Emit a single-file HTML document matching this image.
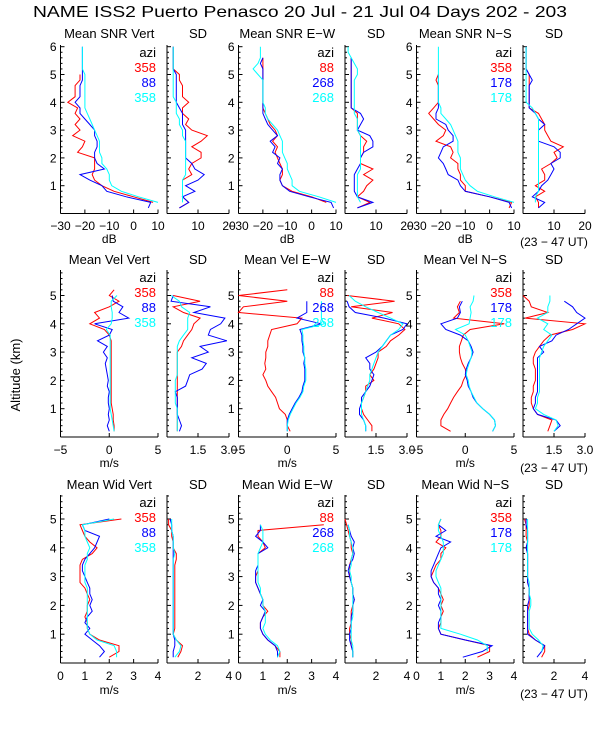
<!DOCTYPE html>
<html><head><meta charset="utf-8"><style>
html,body{margin:0;padding:0;background:#fff;}
svg text{font-family:"Liberation Sans",sans-serif;fill:#000;}
</style></head><body>
<svg id="chart" width="600" height="750" viewBox="0 0 600 750" xmlns="http://www.w3.org/2000/svg">
<text x="300" y="17" text-anchor="middle" font-size="16" textLength="534" lengthAdjust="spacingAndGlyphs">NAME ISS2 Puerto Penasco  20 Jul - 21 Jul 04 Days 202 - 203</text>
<text transform="translate(20,375) rotate(-90)" text-anchor="middle" font-size="13">Altitude (km)</text>
<g id="plots"></g>
</svg>
<script>
// Altitude grid (km) shared by all series
const ALT = [0.2,0.4,0.6,0.8,1.0,1.2,1.4,1.6,1.8,2.0,2.2,2.4,2.6,2.8,3.0,3.2,3.4,3.6,3.8,4.0,4.2,4.4,4.6,4.8,5.0,5.2,5.4,5.6,5.8,6.0];
const N=null;
// Row 1: SNR (dB)
const snrVertRed  = [N,8,0,-8,-13,-16,-17,-16,-16,-16,-23,-21,-20,-25,-22,-24,-22,-24,-23,-27,-24,-24,-24,-22,-22,N,N,N,N,N];
const snrVertBlue = [6,7,-3,-11,-13,-18,-22,-12,-15,-16,-16,-15,-15,-16,-16,-18,-20,-22,-22,-24,-22,-22,-22,-21,-21,-21,-21,-21,-21,-21];
const snrVertCyan = [N,10,2,-5,-9,-10,-10,-11,-13,-13,-14,-14,-14,-15,-16,-17,-18,-19,-20,-20,-20,-20,-20,-20,-20,-21,-21,-21,-21,-21];
const snrVertSdRed  = [4,7,5,5,5,5,8,7,8,11,11,8,11,13,8,6,7,5,5,7,5,5,5,4,4,2,2,2,2,2];
const snrVertSdBlue = [4,7,5,9,6,10,12,9,8,6,6,6,6,6,6,5,5,5,4,3,3,3,3,3,3,2,2,2,2,2];
const snrVertSdCyan = [N,5,5,5,5,5,6,6,6,6,6,6,6,5,5,4,4,3,3,3,2,2,2,2,2,2,2,2,2,2];
const snrEwRed  = [N,6,0,-8,-12,-13,-12,-12,-13,-14,-15,-14,-16,-14,-15,-17,-18,-19,-20,-20,-20,-20,-20,-20,-20,-20,-20,-20,N,N];
const snrEwBlue = [9,8,-1,-9,-12,-13,-13,-12,-14,-13,-16,-15,-17,-14,-16,-18,-19,-20,-20,-20,-20,-20,-20,-20,-20,-20,-21,-20,N,N];
const snrEwCyan = [N,10,3,-5,-8,-8,-9,-10,-10,-11,-12,-12,-12,-13,-14,-16,-18,-19,-19,-20,-20,-20,-20,-20,-22,-24,-22,-21,-21,-21];
const snrEwSdRed  = [4,8,4,6,7,9,6,9,5,5,6,6,7,5,4,4,4,4,2,2,2,2,2,2,2,2,2,2,N,N];
const snrEwSdBlue = [4,9,4,3,3,3,3,4,5,5,6,9,9,8,4,5,6,5,2,2,2,2,2,2,2,2,2,2,N,N];
const snrEwSdCyan = [N,5,4,4,4,4,4,5,5,5,5,5,5,5,4,4,4,3,3,3,3,3,3,3,4,4,3,2,1,1];
const snrNsRed  = [8,9,0,-10,-10,-12,-12,-13,-13,-16,-15,-16,-22,-19,-18,-21,-23,-25,-23,-21,-21,-21,-21,-22,-21,N,N,N,N,N];
const snrNsBlue = [9,8,0,-10,-12,-13,-17,-18,-19,-21,-20,-19,-15,-15,-17,-18,-22,-22,-21,-21,-21,-21,-21,-21,-21,N,N,N,N,N];
const snrNsCyan = [N,10,2,-5,-8,-10,-11,-12,-12,-12,-13,-13,-13,-14,-15,-16,-18,-20,-20,-21,-21,-21,-21,-21,-21,-21,-21,-21,-21,-21];
const snrNsSdRed  = [5,5,4,7,4,7,7,6,9,11,10,13,9,8,7,7,6,5,2,2,2,2,2,2,2,1,1,1,1,1];
const snrNsSdBlue = [5,7,3,5,6,8,9,10,9,12,12,10,5,5,5,7,5,4,2,2,2,2,2,3,2,1,1,1,1,1];
const snrNsSdCyan = [N,4,4,5,5,5,5,5,5,5,5,5,5,5,5,5,5,4,3,1,1,1,1,1,1,1,1,1,1,1];
// Row 2: velocity (m/s)
const velVertRed  = [0.5,0.5,0.4,0.4,0.3,0.2,0.2,0.2,0.2,0.2,0.2,0.2,0.2,0.2,0.2,0.2,0.2,0,-0.5,-2,-1,-1.5,0,1,0,0.5,N,N,N,N];
const velVertBlue = [0,-0.2,0,-0.1,0,-0.1,-0.1,0,-0.2,-0.1,-0.2,-0.3,-0.4,-0.2,-0.6,-0.2,-1.2,0,0.3,-1.5,2,1,1.4,0.4,0.3,N,N,N,N,N];
const velVertCyan = [0.5,0.4,0.3,0.2,0.1,0.1,0.1,0.1,0.1,0.1,0.1,0.1,0.1,0.1,0.1,0.1,0.1,0.1,-0.3,0.2,0.3,0.3,0.2,0.2,0.8,N,N,N,N,N];
const velVertSdRed  = [0.5,0.5,0.5,0.5,0.5,0.5,0.5,0.5,0.5,0.5,0.5,0.5,0.5,0.5,0.5,0.7,0.8,1.0,1.2,1.3,1.6,0.8,0.3,1.6,0.3,N,N,N,N,N];
const velVertSdBlue = [0.6,0.7,0.6,0.5,0.5,0.5,0.5,0.4,0.9,1.0,1.1,1.7,1.9,1.2,2.0,1.6,2.9,2.0,2.1,2.6,2.8,1.3,2.1,0.2,0.3,N,N,N,N,N];
const velVertSdCyan = [0.5,0.5,0.5,0.5,0.5,0.4,0.4,0.4,0.4,0.4,0.5,0.5,0.5,0.5,0.5,0.5,0.6,0.8,1.0,1.0,1.0,1.1,0.7,0.6,0.2,N,N,N,N,N];
const velEwRed  = [0.3,0,0,-0.2,-0.8,-1.0,-1.2,-1.6,-2.0,-2.2,-2.5,-2.2,-2.3,-2.2,-2.2,-2.0,-2.0,-1.8,-1.6,1.0,1.5,-5,-4.5,0,-5,0,N,N,N,N];
const velEwBlue = [0,0,0,0.2,0.5,0.8,1.2,1.5,1.6,1.8,1.8,1.8,1.7,1.8,1.6,1.6,1.5,1.5,1.3,3.5,1.0,2.0,2.0,2.0,N,N,N,N,N,N];
const velEwCyan = [0,0,0.1,0.3,0.6,0.9,1.3,1.6,1.7,1.9,1.9,1.9,1.8,1.8,1.7,1.7,1.6,1.6,1.5,3.8,3.5,3.5,3.5,3.5,N,N,N,N,N,N];
const velEwSdRed  = [1.3,1.3,1.1,0.9,0.8,0.8,0.9,1.0,1.0,1.4,1.2,1.4,1.5,1.6,1.6,2.0,2.2,2.6,2.9,2.6,1.3,2.3,0.3,2.4,0.1,N,N,N,N,N];
const velEwSdBlue = [1.0,1.0,0.9,0.7,0.7,0.8,0.8,1.0,1.2,1.3,1.4,1.2,1.2,1.0,1.5,1.8,2.0,2.2,2.8,3.0,1.9,0.5,0.2,0.1,N,N,N,N,N,N];
const velEwSdCyan = [1.0,1.0,0.9,0.8,0.8,0.8,0.9,1.0,1.1,1.2,1.2,1.3,1.4,1.5,1.6,1.8,2.0,2.2,2.6,2.8,2.2,1.6,1.0,0.5,0.2,N,N,N,N,N];
const velNsRed  = [-1.5,-2.5,-2.5,-2.2,-1.8,-1.5,-1.2,-0.8,-0.4,-0.2,0.1,0,-0.3,-0.5,-0.6,-0.6,-0.4,-0.2,0.5,4.0,-1.2,-0.6,-0.8,-0.5,N,N,N,N,N,N];
const velNsBlue = [2.8,3.1,3.0,2.5,1.8,1.2,0.8,0.6,0.3,0.2,0,0.1,0.3,0.6,0.8,0.6,0.3,-0.5,-2,-2.5,-0.8,-0.5,-0.6,-0.3,N,N,N,N,N,N];
const velNsCyan = [2.8,3.1,3.0,2.5,1.8,1.2,0.9,0.6,0.4,0.3,0.1,0.2,0.4,0.6,0.7,0.5,0.3,0,-1,0.4,0.5,0.6,0.5,0.8,0.9,N,N,N,N,N];
const velNsSdRed  = [1.2,1.3,1.4,0.7,0.5,0.4,0.4,0.5,0.5,0.6,0.6,0.6,0.5,0.5,0.6,0.8,1.0,1.3,2.4,3.0,0.1,1.2,0.4,0.3,0,N,N,N,N,N];
const velNsSdBlue = [1.5,1.8,1.6,0.7,0.5,0.6,0.6,0.7,0.7,0.7,0.7,0.7,0.7,0.7,1.0,0.8,1.4,1.6,2.2,2.6,3.0,2.6,2.4,2.0,N,N,N,N,N,N];
const velNsSdCyan = [1.5,1.7,1.6,1.0,0.6,0.7,0.7,0.8,0.8,0.8,0.8,0.8,0.8,0.8,0.9,1.0,1.2,1.4,1.0,1.2,0.7,1.2,1.2,1.3,1.3,N,N,N,N,N];
// Row 3: width (m/s)
const widVertRed  = [2.0,2.4,2.4,1.6,1.2,1.1,1.1,1.0,1.1,1.1,1.2,1.1,1.0,0.8,0.8,0.8,0.8,0.9,1.3,1.5,1.2,1.0,0.9,0.8,2.5,N,N,N,N,N];
const widVertBlue = [1.6,1.8,1.6,1.3,1.0,1.2,1.0,1.1,1.3,1.2,1.3,1.2,1.2,1.1,1.0,0.9,0.9,1.0,1.2,1.4,1.5,1.6,1.0,0.9,2.0,N,N,N,N,N];
const widVertCyan = [2.3,2.3,2.2,1.5,1.2,1.1,1.1,1.1,1.1,1.1,1.1,1.1,1.1,1.0,1.0,1.0,1.0,1.1,1.1,1.2,1.1,1.0,1.0,0.9,2.2,N,N,N,N,N];
const widVertSdRed  = [0.7,0.9,1.0,0.6,0.4,0.5,0.5,0.5,0.5,0.5,0.5,0.5,0.5,0.5,0.5,0.5,0.5,0.6,0.6,0.4,0.4,0.3,0.3,0.1,0.1,N,N,N,N,N];
const widVertSdBlue = [0.4,0.4,0.5,0.5,0.4,0.4,0.4,0.4,0.4,0.4,0.4,0.4,0.4,0.4,0.4,0.4,0.4,0.4,0.4,0.4,0.4,0.4,0.3,0.3,0.2,N,N,N,N,N];
const widVertSdCyan = [0.5,0.8,0.9,0.6,0.4,0.4,0.4,0.4,0.4,0.4,0.4,0.4,0.4,0.4,0.4,0.4,0.4,0.4,0.5,0.4,0.4,0.4,0.3,0.3,0.3,N,N,N,N,N];
const widEwRed  = [1.7,1.7,1.5,1.2,1.0,0.9,0.9,1.0,1.2,1.0,1.0,0.9,0.8,0.7,0.7,0.8,0.8,0.8,0.8,1.1,1.0,0.8,0.8,3.5,N,N,N,N,N,N];
const widEwBlue = [1.6,1.6,1.5,1.2,1.0,0.9,0.9,1.0,1.1,0.9,1.0,0.9,0.8,0.7,0.7,0.7,0.8,0.8,0.8,1.2,1.0,0.7,0.9,0.9,N,N,N,N,N,N];
const widEwCyan = [1.6,1.7,1.6,1.3,1.1,1.0,1.1,1.1,1.1,1.0,1.0,0.9,0.9,0.8,0.8,0.8,0.8,0.8,0.8,0.9,1.0,1.0,1.0,0.9,N,N,N,N,N,N];
const widEwSdRed  = [0.5,0.5,0.4,0.4,0.3,0.3,0.4,0.4,0.4,0.5,0.6,0.5,0.5,0.4,0.3,0.3,0.3,0.4,0.5,0.4,0.4,0.3,0.2,0.1,0,N,N,N,N,N];
const widEwSdBlue = [0.5,0.5,0.4,0.3,0.3,0.4,0.4,0.4,0.5,0.5,0.6,0.5,0.5,0.4,0.3,0.2,0.3,0.5,0.6,0.5,0.6,0.4,0.3,0.2,N,N,N,N,N,N];
const widEwSdCyan = [0.5,0.5,0.5,0.4,0.4,0.4,0.4,0.5,0.5,0.5,0.5,0.5,0.5,0.4,0.4,0.3,0.4,0.4,0.5,0.5,0.4,0.3,0.3,0.2,N,N,N,N,N,N];
const widNsRed  = [2.5,3.0,3.0,2.0,1.0,0.9,1.0,1.0,1.1,1.0,1.1,1.0,0.9,0.7,0.6,0.7,0.8,1.0,1.0,1.2,0.8,1.0,1.0,0.9,1.0,N,N,N,N,N];
const widNsBlue = [1.9,2.7,3.1,2.0,1.0,0.9,0.9,1.0,1.0,0.9,1.0,0.9,0.9,0.7,0.6,0.6,0.7,0.8,0.9,1.0,1.4,0.8,1.2,0.9,N,N,N,N,N,N];
const widNsCyan = [N,2.9,2.9,2.5,1.8,1.0,1.0,1.0,1.0,1.0,1.0,1.0,1.0,0.9,0.8,0.8,0.9,1.0,1.1,1.1,1.1,1.0,0.9,0.9,1.0,N,N,N,N,N];
const widNsSdRed  = [1.2,1.4,1.4,0.8,0.4,0.3,0.3,0.3,0.3,0.4,0.4,0.4,0.4,0.3,0.3,0.3,0.3,0.3,0.3,0.2,0.3,0.2,0.2,0.2,0.1,N,N,N,N,N];
const widNsSdBlue = [0.9,1.2,1.4,0.8,0.3,0.3,0.3,0.3,0.3,0.3,0.4,0.4,0.4,0.3,0.3,0.3,0.3,0.3,0.3,0.2,0.3,0.3,0.3,0.2,0.2,N,N,N,N,N];
const widNsSdCyan = [N,1.2,1.3,1.0,0.6,0.4,0.4,0.4,0.4,0.5,0.5,0.4,0.4,0.4,0.3,0.3,0.3,0.3,0.3,0.3,0.3,0.3,0.3,0.3,0.3,N,N,N,N,N];

const legendLabels = [["358","88","358"],["88","268","268"],["358","178","178"]];

const svg = document.getElementById('plots');
const NS='http://www.w3.org/2000/svg';
function mk(tag, attrs, parent){const e=document.createElementNS(NS,tag);for(const k in attrs)e.setAttribute(k,attrs[k]);(parent||svg).appendChild(e);return e;}

const rows=[
 {y0:213.5,ppk:27.8,top:45,ymaxTick:6,titleY:38,lblY:230,unitY:243,utY:246,unit:'dB',
  mean:{min:-30,max:10,ticks:[-30,-20,-10,0,10],labels:['\u221230','\u221220','\u221210','0','10']},
  sd:{min:0,max:20,ticks:[0,10,20],labels:['','10','20']},
  names:['Mean SNR Vert','Mean SNR E\u2212W','Mean SNR N\u2212S'],key:'snr',
  data:[[snrVertRed,snrVertBlue,snrVertCyan,snrVertSdRed,snrVertSdBlue,snrVertSdCyan],[snrEwRed,snrEwBlue,snrEwCyan,snrEwSdRed,snrEwSdBlue,snrEwSdCyan],[snrNsRed,snrNsBlue,snrNsCyan,snrNsSdRed,snrNsSdBlue,snrNsSdCyan]]},
 {y0:437,ppk:28.3,top:270,ymaxTick:5,titleY:264,lblY:454,unitY:467,utY:472,unit:'m/s',
  mean:{min:-5,max:5,ticks:[-5,0,5],labels:['\u22125','0','5']},
  sd:{min:0,max:3,ticks:[0,1.5,3],labels:['','1.5','3.0']},
  names:['Mean Vel Vert','Mean Vel E\u2212W','Mean Vel N\u2212S'],key:'vel',
  data:[[velVertRed,velVertBlue,velVertCyan,velVertSdRed,velVertSdBlue,velVertSdCyan],[velEwRed,velEwBlue,velEwCyan,velEwSdRed,velEwSdBlue,velEwSdCyan],[velNsRed,velNsBlue,velNsCyan,velNsSdRed,velNsSdBlue,velNsSdCyan]]},
 {y0:663,ppk:28.8,top:495,ymaxTick:5,titleY:489,lblY:680,unitY:694,utY:698,unit:'m/s',
  mean:{min:0,max:4,ticks:[0,1,2,3,4],labels:['0','1','2','3','4']},
  sd:{min:0,max:4,ticks:[0,2,4],labels:['','2','4']},
  names:['Mean Wid Vert','Mean Wid E\u2212W','Mean Wid N\u2212S'],key:'wid',
  data:[[widVertRed,widVertBlue,widVertCyan,widVertSdRed,widVertSdBlue,widVertSdCyan],[widEwRed,widEwBlue,widEwCyan,widEwSdRed,widEwSdBlue,widEwSdCyan],[widNsRed,widNsBlue,widNsCyan,widNsSdRed,widNsSdBlue,widNsSdCyan]]}
];
const colX=[[60.5,158],[238.5,336],[416.5,514]];
const sdX=[[167,229],[345,407],[523,585]];
const colors=['#ff0000','#0000ff','#00ffff'];
const dirs=['vert','ew','ns'];

function drawPanel(r,row,x0,x1,ax,title,series,legend,pname){
  const g=mk('g',{});
  
  
  const xs=v=>x0+(v-ax.min)/(ax.max-ax.min)*(x1-x0);
  const ys=a=>row.y0-a*row.ppk;
  const t=mk('text',{x:(x0+x1)/2,y:row.titleY,'text-anchor':'middle','font-size':13},g);
  t.textContent=title;
  
  
  // axes
  mk('line',{x1:x0,y1:row.y0,x2:x0,y2:row.top,stroke:'#000','stroke-width':1},g);
  mk('line',{x1:x0,y1:row.y0,x2:x1,y2:row.y0,stroke:'#000','stroke-width':1},g);
  for(let k=1;k<=Math.floor((row.top<100?6.05:5.85)*5);k++){
    const a=k/5, y=ys(a), major=(k%5===0);
    mk('line',{x1:x0,y1:y,x2:x0+(major?4:2),y2:y,stroke:'#000','stroke-width':1},g);
    if(major && title!=='SD'){
      const lt=mk('text',{x:x0-4,y:y+4.5,'text-anchor':'end','font-size':12},g);
      lt.textContent=String(a);
      
      
    }
  }
  ax.ticks.forEach((tv,i)=>{
    const x=xs(tv);
    mk('line',{x1:x,y1:row.y0,x2:x,y2:row.y0-4,stroke:'#000','stroke-width':1},g);
    if(ax.labels[i]){
      const lt=mk('text',{x:x,y:row.lblY,'text-anchor':'middle','font-size':12},g);
      lt.textContent=ax.labels[i];
      
      
    }
  });
  if(title!=='SD'){
    const u=mk('text',{x:(x0+x1)/2,y:row.unitY,'text-anchor':'middle','font-size':12},g);
    u.textContent=row.unit;
    
    
  }
  series.forEach((vals,si)=>{
    let d='',pen=false;
    vals.forEach((v,i)=>{
      if(v===null){pen=false;return;}
      const vv=Math.max(ax.min,Math.min(ax.max,v));
      d+=(pen?'L':'M')+xs(vv).toFixed(1)+' '+ys(ALT[i]).toFixed(1);
      pen=true;
    });
    const p=mk('path',{d:d,fill:'none',stroke:colors[si],'stroke-width':1},g);
    
    
  });
  if(legend){
    const lx=x1-2, ly=[row.top+12,row.top+27,row.top+42,row.top+57];
    const a=mk('text',{x:lx,y:ly[0],'text-anchor':'end','font-size':13},g);
    a.textContent='azi';
    
    
    legend.forEach((s,i)=>{
      const e=mk('text',{x:lx,y:ly[i+1],'text-anchor':'end','font-size':13,style:'fill:'+colors[i]},g);
      e.textContent=s;
      
      
    });
  }
}

rows.forEach((row,ri)=>{
  for(let c=0;c<3;c++){
    const dd=row.data[c];
    drawPanel(row.key,row,colX[c][0],colX[c][1],row.mean,row.names[c],[dd[0],dd[1],dd[2]],legendLabels[c],row.key+'-'+dirs[c]+'-mean-panel');
    drawPanel(row.key,row,sdX[c][0],sdX[c][1],row.sd,'SD',[dd[3],dd[4],dd[5]],null,row.key+'-'+dirs[c]+'-sd-panel');
  }
  const ut=mk('text',{x:554,y:row.utY,'text-anchor':'middle','font-size':12});
  ut.textContent='(23 \u2212 47 UT)';
  
  
});
</script>
</body></html>
